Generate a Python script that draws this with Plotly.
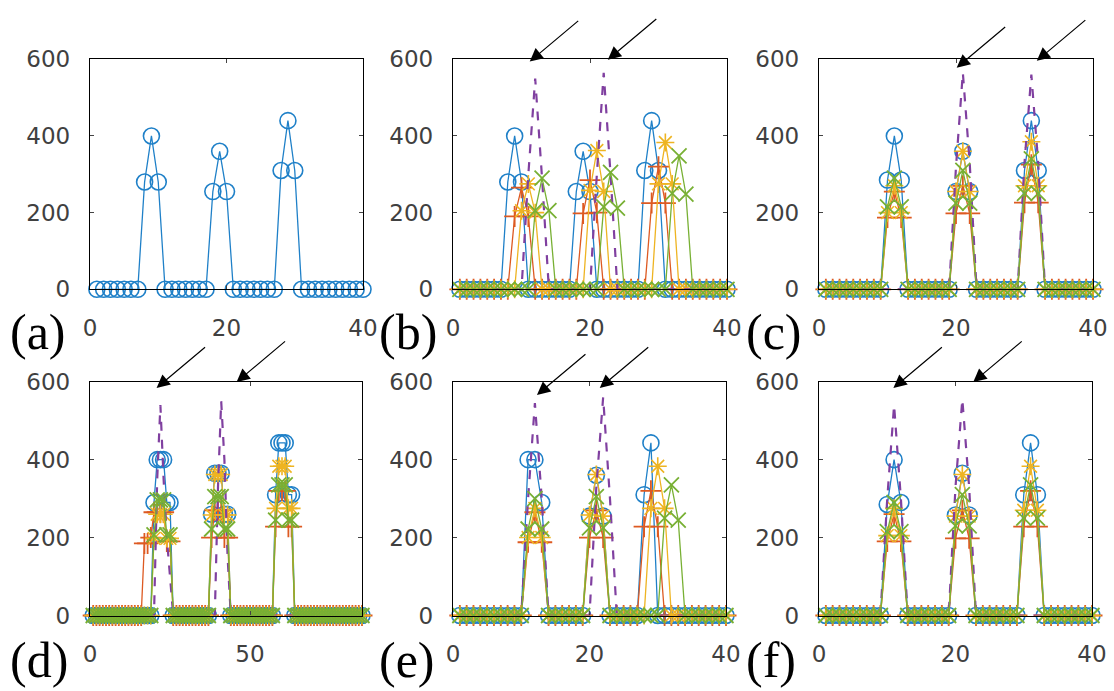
import plotly.graph_objects as go

# ---------------- data (sparse: index -> value, zero elsewhere) ----------------
N_STD = 40
N_D = 85

blue_a = {8: 280, 9: 400, 10: 280, 18: 255, 19: 360, 20: 255, 28: 310, 29: 440, 30: 310}

blue_b = {8: 280, 9: 400, 10: 280, 18: 255, 19: 360, 20: 255, 28: 310, 29: 440, 30: 310}
red_b = {9: 190, 10: 265, 11: 190, 19: 198, 20: 285, 21: 200, 29: 225, 30: 320, 31: 225}
yellow_b = {10: 205, 11: 275, 12: 200, 20: 258, 21: 362, 22: 255, 30: 275, 31: 383, 32: 275}
purple_b = {11: 300, 12: 550, 13: 290, 21: 300, 22: 565, 23: 300}
green_b = {12: 205, 13: 290, 14: 205, 22: 215, 23: 305, 24: 212, 32: 250, 33: 348, 34: 248}

blue_c = {10: 285, 11: 400, 12: 285, 20: 255, 21: 360, 22: 255, 30: 310, 31: 440, 32: 310}
red_c = {10: 187, 11: 255, 12: 187, 20: 198, 21: 270, 22: 198, 30: 226, 31: 325, 32: 226}
yellow_c = {10: 200, 11: 270, 12: 200, 20: 255, 21: 360, 22: 255, 30: 270, 31: 385, 32: 270}
purple_c = {20: 320, 21: 565, 22: 330, 30: 330, 31: 560, 32: 330}
green_c = {10: 215, 11: 290, 12: 215, 20: 225, 21: 310, 22: 225, 30: 250, 31: 340, 32: 250}

blue_d = {20: 290, 21: 400, 22: 400, 23: 400, 24: 290, 25: 290,
          38: 260, 39: 365, 40: 365, 41: 365, 42: 260, 43: 260,
          58: 310, 59: 443, 60: 443, 61: 443, 62: 310, 63: 310}
red_d = {17: 185, 18: 185, 19: 200, 20: 265, 21: 265, 22: 265, 23: 265, 24: 190, 25: 190,
         38: 200, 39: 270, 40: 270, 41: 270, 42: 200, 43: 200,
         58: 228, 59: 320, 60: 320, 61: 320, 62: 228, 63: 228}
yellow_d = {20: 198, 21: 260, 22: 260, 23: 260, 24: 198, 25: 198,
            38: 258, 39: 362, 40: 362, 41: 362, 42: 258, 43: 258,
            58: 275, 59: 383, 60: 383, 61: 383, 62: 275, 63: 275}
purple_d = {21: 350, 22: 540, 23: 350, 24: 200, 25: 100, 40: 330, 41: 550, 42: 400, 43: 150}
green_d = {20: 207, 21: 297, 22: 297, 23: 297, 24: 207, 25: 207,
           38: 222, 39: 305, 40: 305, 41: 305, 42: 222, 43: 222,
           58: 245, 59: 335, 60: 335, 61: 335, 62: 245, 63: 245}

blue_e = {11: 400, 12: 400, 13: 290, 20: 255, 21: 360, 22: 255, 28: 310, 29: 443}
red_e = {11: 188, 12: 265, 13: 188, 20: 200, 21: 270, 22: 200, 28: 228, 29: 320, 30: 228}
yellow_e = {11: 200, 12: 275, 13: 200, 20: 258, 21: 362, 22: 255, 29: 275, 30: 383, 31: 275}
purple_e = {11: 300, 12: 545, 13: 300, 21: 330, 22: 560, 23: 300}
green_e = {11: 222, 12: 300, 13: 222, 20: 225, 21: 305, 22: 225, 31: 250, 32: 335, 33: 245}

blue_f = {10: 285, 11: 400, 12: 290, 20: 258, 21: 365, 22: 258, 30: 310, 31: 443, 32: 310}
red_f = {10: 190, 11: 260, 12: 190, 20: 198, 21: 270, 22: 198, 30: 228, 31: 320, 32: 228}
yellow_f = {10: 205, 11: 275, 12: 205, 20: 255, 21: 362, 22: 255, 30: 270, 31: 383, 32: 270}
purple_f = {10: 300, 11: 540, 12: 300, 20: 330, 21: 555, 22: 330}
green_f = {10: 215, 11: 290, 12: 215, 20: 230, 21: 310, 22: 230, 30: 250, 31: 335, 32: 250}

panel_labels = ["(a)", "(b)", "(c)", "(d)", "(e)", "(f)"]
x_ticks_std = [0, 20, 40]
x_ticks_d = [0, 50]
y_ticks = [0, 200, 400, 600]

# arrow tips (data coords) per panel
arrows_b = [(11.2, 594), (22.6, 599)]
arrows_c = [(20.1, 578), (31.8, 596)]
arrows_d = [(20.8, 584), (45.8, 599)]
arrows_e = [(12.3, 566), (21.5, 584)]
arrows_f = [(10.9, 584), (22.6, 599)]

# ---------------- styling ----------------
W, H = 1114, 691
C_BLUE = "#1f80c8"
C_RED = "#dd5a22"
C_YEL = "#eeb422"
C_PUR = "#8040a0"
C_GRN = "#78b034"

# pixel boxes (left, right, top, bottom)
boxes = [
    (90, 363, 59.3, 289.3), (453, 727, 59.3, 289.3), (819, 1093, 59.3, 289.3),
    (90, 362, 381.7, 615.5), (453, 726, 381.7, 615.5), (819, 1092, 381.7, 615.5),
]
label_pos = [(8, 332), (377, 332), (744, 332), (8, 660), (377, 660), (744, 660)]


def expand(d, n):
    return [d.get(i, 0) for i in range(1, n + 1)]


fig = go.Figure()


def add_series(k, d, n, kind):
    xs = list(range(1, n + 1))
    ys = expand(d, n)
    ax = "" if k == 1 else str(k)
    common = dict(x=xs, y=ys, xaxis="x" + ax, yaxis="y" + ax, cliponaxis=False,
                  showlegend=False, hoverinfo="skip")
    if kind == "blue":
        fig.add_trace(go.Scatter(mode="lines+markers", line=dict(color=C_BLUE, width=1.3),
                                 marker=dict(symbol="circle-open", size=16, color=C_BLUE,
                                             line=dict(width=1.6, color=C_BLUE)), **common))
    elif kind == "red":
        fig.add_trace(go.Scatter(mode="lines+markers", line=dict(color=C_RED, width=1.3),
                                 marker=dict(symbol="cross-thin-open", size=15, color=C_RED,
                                             line=dict(width=1.8, color=C_RED)), **common))
    elif kind == "yellow":
        fig.add_trace(go.Scatter(mode="lines+markers", line=dict(color=C_YEL, width=1.3),
                                 marker=dict(symbol="asterisk-open", size=15, color=C_YEL,
                                             line=dict(width=1.6, color=C_YEL)), **common))
    elif kind == "purple":
        fig.add_trace(go.Scatter(mode="lines", line=dict(color=C_PUR, width=2.2, dash="dash"),
                                 **common))
    elif kind == "green":
        fig.add_trace(go.Scatter(mode="lines+markers", line=dict(color=C_GRN, width=1.3),
                                 marker=dict(symbol="x-thin-open", size=15, color=C_GRN,
                                             line=dict(width=1.8, color=C_GRN)), **common))


panels = [
    (1, N_STD, [(blue_a, "blue")]),
    (2, N_STD, [(blue_b, "blue"), (red_b, "red"), (yellow_b, "yellow"), (purple_b, "purple"), (green_b, "green")]),
    (3, N_STD, [(blue_c, "blue"), (red_c, "red"), (yellow_c, "yellow"), (purple_c, "purple"), (green_c, "green")]),
    (4, N_D, [(blue_d, "blue"), (red_d, "red"), (yellow_d, "yellow"), (purple_d, "purple"), (green_d, "green")]),
    (5, N_STD, [(blue_e, "blue"), (red_e, "red"), (yellow_e, "yellow"), (purple_e, "purple"), (green_e, "green")]),
    (6, N_STD, [(blue_f, "blue"), (red_f, "red"), (yellow_f, "yellow"), (purple_f, "purple"), (green_f, "green")]),
]
for k, n, series in panels:
    for d, kind in series:
        add_series(k, d, n, kind)

tick_font = dict(family="DejaVu Sans", size=23, color="#404040")
layout = dict(width=W, height=H, margin=dict(l=0, r=0, t=0, b=0, autoexpand=False),
              paper_bgcolor="white", plot_bgcolor="white", showlegend=False)

for i, (l, r, t, b) in enumerate(boxes):
    k = i + 1
    ax = "" if k == 1 else str(k)
    xmax = 85 if k == 4 else 40
    xt = x_ticks_d if k == 4 else x_ticks_std
    layout["xaxis" + ax] = dict(
        domain=[l / W, r / W], anchor="y" + ax, range=[0, xmax], tickvals=xt,
        ticktext=[str(v) for v in xt], showline=True, linecolor="black", linewidth=1.3,
        mirror="ticks", ticks="inside", ticklen=4, tickcolor="#444", showgrid=False,
        zeroline=False, tickfont=tick_font, ticklabelstandoff=18, fixedrange=True,
        automargin=False)
    layout["yaxis" + ax] = dict(
        domain=[1 - b / H, 1 - t / H], anchor="x" + ax, range=[0, 600], tickvals=y_ticks,
        ticktext=[str(v) for v in y_ticks], showline=True, linecolor="black", linewidth=1.3,
        mirror="ticks", ticks="inside", ticklen=4, tickcolor="#444", showgrid=False,
        zeroline=False, tickfont=tick_font, ticklabelstandoff=14, fixedrange=True,
        automargin=False)

annotations = []
for lab, (px, py) in zip(panel_labels, label_pos):
    annotations.append(dict(text=lab, xref="paper", yref="paper", x=px / W, y=1 - py / H,
                            xanchor="left", yanchor="middle", showarrow=False,
                            font=dict(family="Liberation Serif", size=50, color="black")))

for k, tips in [(2, arrows_b), (3, arrows_c), (4, arrows_d), (5, arrows_e), (6, arrows_f)]:
    for (x, y) in tips:
        annotations.append(dict(text="", xref="x%d" % k, yref="y%d" % k, x=x, y=y,
                                ax=50, ay=-42, showarrow=True, arrowhead=2, arrowsize=2.2,
                                arrowwidth=1.2, arrowcolor="black"))
layout["annotations"] = annotations

fig.update_layout(**layout)
fig.write_html("out.html")
